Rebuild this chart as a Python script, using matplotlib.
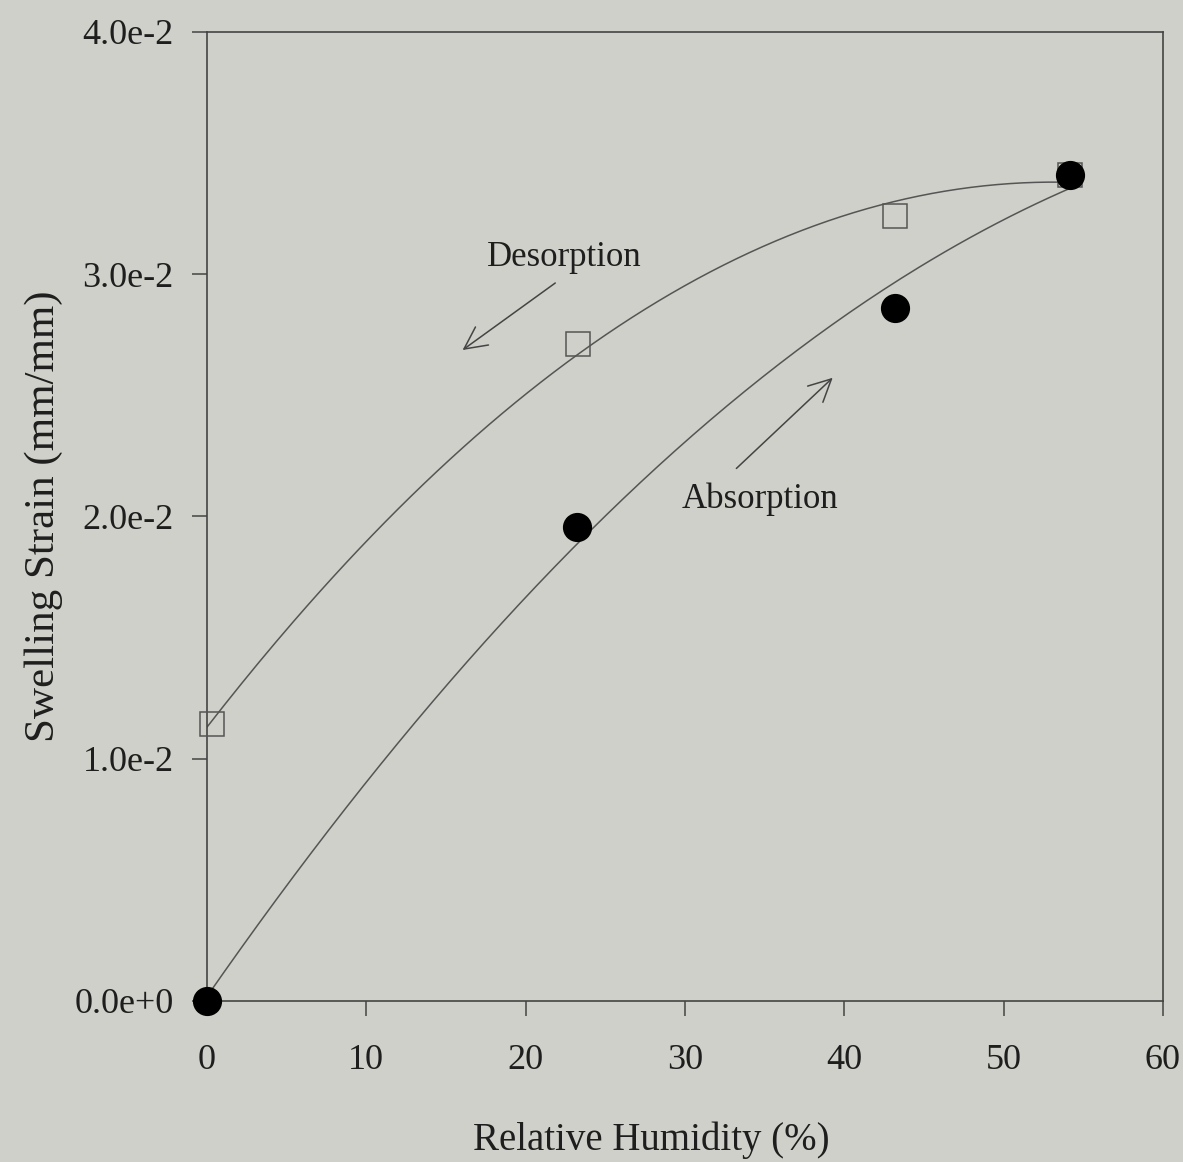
import numpy as np
import matplotlib.pyplot as plt

# swelling strain vs relative humidity
rh_abs = [0.0, 23.2, 43.2, 54.2]
strain_abs = [0.0, 0.01955, 0.0286, 0.0341]
rh_des = [0.3, 23.3, 43.2, 54.2]
strain_des = [0.01145, 0.0271, 0.0324, 0.0341]

xticks = [0, 10, 20, 30, 40, 50, 60]
yticks = [0.0, 0.01, 0.02, 0.03, 0.04]
ytick_labels = ['0.0e+0', '1.0e-2', '2.0e-2', '3.0e-2', '4.0e-2']

bg = '#cfd0c9'
ink = '#1e1e1e'
plt.rcParams['font.family'] = ['Liberation Serif', 'DejaVu Serif']

fig = plt.figure(figsize=(11.83, 11.62), dpi=100, facecolor=bg)
ax = fig.add_axes([0.175, 0.1386, 0.808, 0.834], facecolor=bg)

# quadratic fits through each branch
xs_abs = np.linspace(min(rh_abs), max(rh_abs), 200)
xs_des = np.linspace(0, max(rh_des), 200)
p_abs = np.polyfit(rh_abs, strain_abs, 2)
p_des = np.polyfit(rh_des, strain_des, 2)
ax.plot(xs_des, np.polyval(p_des, xs_des), color='#555555', lw=1.1, zorder=2)
ax.plot(xs_abs, np.polyval(p_abs, xs_abs), color='#555555', lw=1.1, zorder=2)

ax.plot(rh_des, strain_des, 's', ms=17, mfc='none', mec='#555555', mew=1.1,
        clip_on=False, zorder=3)
ax.plot(rh_abs, strain_abs, 'o', ms=20, color='black', clip_on=False, zorder=4)

ax.annotate('', xy=(15.9, 0.0268), xytext=(22.0, 0.0297),
            arrowprops=dict(arrowstyle='->', color='#444444', lw=1.1,
                            mutation_scale=40))
ax.text(22.4, 0.0307, 'Desorption', fontsize=25, color=ink,
        ha='center', va='center')
ax.annotate('', xy=(39.4, 0.0258), xytext=(33.1, 0.0219),
            arrowprops=dict(arrowstyle='->', color='#444444', lw=1.1,
                            mutation_scale=40))
ax.text(34.7, 0.0207, 'Absorption', fontsize=25, color=ink,
        ha='center', va='center')

ax.set_xlim(0, 60)
ax.set_ylim(0, 0.04)
ax.set_xticks(xticks)
ax.set_yticks(yticks)
ax.set_yticklabels(ytick_labels)
ax.tick_params(direction='out', length=11, width=1.1, color='#444444',
               labelsize=26, labelcolor=ink)
ax.tick_params(axis='x', pad=20)
ax.tick_params(axis='y', pad=13)
for s in ax.spines.values():
    s.set_color('#444444')
    s.set_linewidth(1.2)

ax.set_xlabel('Relative Humidity (%)', fontsize=28, color=ink)
ax.xaxis.set_label_coords(0.465, -0.124)
ax.set_ylabel('Swelling Strain (mm/mm)', fontsize=31, color=ink, labelpad=8)

fig.savefig('out.png', dpi=100, facecolor=bg)
